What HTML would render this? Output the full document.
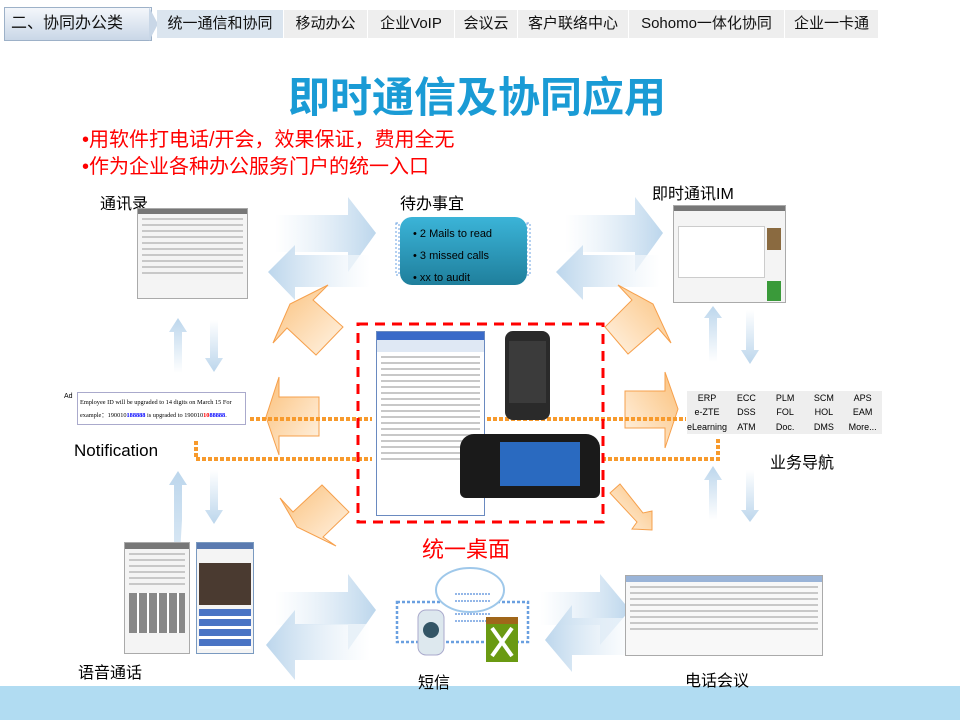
<!DOCTYPE html>
<html><head><meta charset="utf-8"><style>
body{margin:0;width:960px;height:720px;overflow:hidden;background:#fff;font-family:"Liberation Sans","Noto Sans CJK SC",sans-serif;position:relative}
.a{position:absolute;white-space:nowrap}
.tab{position:absolute;top:10px;height:28px;line-height:28px;background:#eeeeee;font-size:15px;color:#111;text-align:center}
.shot{position:absolute;background:#f4f4f4;border:1px solid #aaa;overflow:hidden}
.ln{height:2px;background:#c8c8c8;margin:4px 4px}
</style></head><body>
<svg width="960" height="720" style="position:absolute;left:0;top:0">
<defs>
<linearGradient id="bR" x1="0" x2="1"><stop offset="0" stop-color="#fff" stop-opacity="0.6"/><stop offset="1" stop-color="#bcd6ec"/></linearGradient>
<linearGradient id="bL" x1="1" x2="0"><stop offset="0" stop-color="#fff" stop-opacity="0.6"/><stop offset="1" stop-color="#bcd6ec"/></linearGradient>
<linearGradient id="bU" x1="0" y1="1" x2="0" y2="0"><stop offset="0" stop-color="#fff"/><stop offset="1" stop-color="#bcd6ec"/></linearGradient>
<linearGradient id="bD" x1="0" y1="0" x2="0" y2="1"><stop offset="0" stop-color="#fff"/><stop offset="1" stop-color="#bcd6ec"/></linearGradient>
<linearGradient id="oL" x1="0" y1="0" x2="1" y2="1"><stop offset="0" stop-color="#fbc07a"/><stop offset="1" stop-color="#fff4e6"/></linearGradient>
<linearGradient id="oR" x1="1" y1="0" x2="0" y2="1"><stop offset="0" stop-color="#fbc07a"/><stop offset="1" stop-color="#fff4e6"/></linearGradient>
<linearGradient id="tl" x1="0" y1="0" x2="0" y2="1"><stop offset="0" stop-color="#3bb4d8"/><stop offset="1" stop-color="#1f7f9c"/></linearGradient>
</defs>
<polygon points="275,215 348,215 348,197 376,233 348,272 348,252 275,252" fill="url(#bR)"/>
<polygon points="370,255 295,255 295,245 268,272 295,300 295,287 370,287" fill="url(#bL)"/>
<polygon points="565,215 635,215 635,197 663,233 635,272 635,252 565,252" fill="url(#bR)"/>
<polygon points="660,255 583,255 583,245 556,272 583,300 583,287 660,287" fill="url(#bL)"/>
<polygon points="275,592 348,592 348,574 376,610 348,650 348,625 275,625" fill="url(#bR)"/>
<polygon points="370,624 295,624 295,610 266,645 295,680 295,660 370,660" fill="url(#bL)"/>
<polygon points="540,592 600,592 600,574 630,610 600,645 600,625 540,625" fill="url(#bR)"/>
<polygon points="635,618 572,618 572,605 545,640 572,672 572,655 635,655" fill="url(#bL)"/>
<g fill="url(#bU)"><polygon points="174,373 174,332 169,332 178,318 187,332 182,332 182,373"/><polygon points="174,655 174,485 169,485 178,471 187,485 182,485 182,520"/><polygon points="709,362 709,318 704,318 713,306 722,318 717,318 717,362"/><polygon points="709,520 709,480 704,480 713,466 722,480 717,480 717,520"/></g>
<g fill="url(#bD)"><polygon points="210,320 210,358 205,358 214,372 223,358 218,358 218,320"/><polygon points="210,470 210,510 205,510 214,524 223,510 218,510 218,470"/><polygon points="746,310 746,350 741,350 750,364 759,350 754,350 754,310"/><polygon points="746,470 746,510 741,510 750,522 759,510 754,510 754,470"/></g>
<g stroke="#f6a04c" stroke-width="1">
<polygon fill="url(#oL)" points="273,343 290,304 328,285 313,300 343,327 316,355 287,328"/>
<polygon fill="url(#oL)" points="266,417 279,377 279,397 319,397 319,436 279,436 279,455"/>
<polygon fill="url(#oL)" points="280,498 293,512 322,485 349,512 323,537 336,546 297,527"/>
<polygon fill="url(#oR)" points="618,285 653,304 671,343 658,328 628,354 605,327 632,300"/>
<polygon fill="url(#oR)" points="625,391 665,391 665,372 678,409 665,448 665,428 625,428"/>
<polygon fill="url(#oR)" points="610,493 620,484 643,513 652,511 652,530 632,529 637,522"/>
</g>
<g stroke="#f79a2c" stroke-width="4" stroke-dasharray="4,2" fill="none">
<line x1="250" y1="419" x2="372" y2="419"/><line x1="475" y1="419" x2="686" y2="419"/>
<polyline points="196,441 196,459 372,459"/><polyline points="560,459 718,459 718,438"/>
</g>
<rect x="358" y="324" width="245" height="198" fill="none" stroke="#f00" stroke-width="3" stroke-dasharray="10,7"/>
<rect x="396" y="223" width="3" height="52" fill="none" stroke="#6aa0e0" stroke-dasharray="2,2"/>
<rect x="527" y="223" width="3" height="52" fill="none" stroke="#6aa0e0" stroke-dasharray="2,2"/>
<rect x="400" y="217" width="127" height="68" rx="12" fill="url(#tl)"/>
<rect x="397" y="602" width="131" height="40" fill="none" stroke="#6aa0e0" stroke-width="2.5" stroke-dasharray="3,2"/>
<ellipse cx="470" cy="590" rx="34" ry="22" fill="#fff" stroke="#9fc8ea" stroke-width="2"/>
<g stroke="#2a6fd0" stroke-width="1" stroke-dasharray="2,1"><line x1="455" y1="594" x2="490" y2="594"/><line x1="455" y1="601" x2="490" y2="601"/><line x1="455" y1="614" x2="490" y2="614"/><line x1="455" y1="621" x2="490" y2="621"/></g>
<rect x="418" y="610" width="26" height="45" rx="8" fill="#dde8ee" stroke="#aac"/>
<circle cx="431" cy="630" r="8" fill="#356"/>
<rect x="486" y="622" width="32" height="40" fill="#6a9a12"/><rect x="486" y="617" width="32" height="7" fill="#a0661a"/>
<path d="M492 628 L512 656 M512 628 L492 656" stroke="#fff" stroke-width="4"/>
</svg>
<div class="a" style="left:0;top:686px;width:960px;height:34px;background:#b1dcf2"></div>
<div class="a" style="left:4px;top:7px;width:140px;height:32px;background:linear-gradient(#f4f7fb,#c9d7e7);border:1px solid #9db1c8;font-size:16px;line-height:32px;padding-left:6px;color:#111">二、协同办公类</div>
<div class="a" style="left:149px;top:7px;width:0;height:0;border-top:17px solid transparent;border-bottom:17px solid transparent;border-left:9px solid #c9d7e7"></div>
<div class="tab" style="left:157px;width:126px;background:#dbe5ef">统一通信和协同</div>
<div class="tab" style="left:284px;width:83px">移动办公</div>
<div class="tab" style="left:368px;width:86px">企业VoIP</div>
<div class="tab" style="left:455px;width:62px">会议云</div>
<div class="tab" style="left:518px;width:110px">客户联络中心</div>
<div class="tab" style="left:629px;width:155px">Sohomo一体化协同</div>
<div class="tab" style="left:785px;width:93px">企业一卡通</div>
<div class="a" style="left:288px;top:64px;font-size:42px;font-weight:bold;color:#1a9bd5">即时通信及协同应用</div>
<div class="a" style="left:82px;top:127px;font-size:20px;color:#f00;line-height:27px">•用软件打电话/开会，效果保证，费用全无<br>•作为企业各种办公服务门户的统一入口</div>
<div class="a" style="left:100px;top:190px;font-size:16px">通讯录</div>
<div class="a" style="left:400px;top:190px;font-size:16px">待办事宜</div>
<div class="a" style="left:652px;top:180px;font-size:16px">即时通讯IM</div>
<div class="a" style="left:74px;top:441px;font-size:17px">Notification</div>
<div class="a" style="left:770px;top:449px;font-size:16px">业务导航</div>
<div class="a" style="left:422px;top:532px;font-size:22px;color:#f00">统一桌面</div>
<div class="a" style="left:78px;top:659px;font-size:16px">语音通话</div>
<div class="a" style="left:418px;top:669px;font-size:16px">短信</div>
<div class="a" style="left:685px;top:667px;font-size:16px">电话会议</div>
<div class="a" style="left:413px;top:223px;font-size:11px;color:#000;line-height:22px">• 2 Mails to read<br>• 3 missed calls<br>• xx to audit</div>
<div class="shot" style="left:137px;top:208px;width:109px;height:89px"><div style="height:5px;background:#777"></div><div class="ln"></div><div class="ln"></div><div class="ln"></div><div class="ln"></div><div class="ln"></div><div class="ln"></div><div class="ln"></div><div class="ln"></div><div class="ln"></div><div class="ln"></div></div>
<div class="shot" style="left:673px;top:205px;width:111px;height:96px"><div style="height:5px;background:#777"></div><div style="position:absolute;left:93px;top:22px;width:14px;height:22px;background:#8a6a40"></div><div style="position:absolute;left:93px;top:75px;width:14px;height:20px;background:#3a9a3a"></div><div style="position:absolute;left:4px;top:20px;width:85px;height:50px;background:#fff;border:1px solid #ccc"></div></div>
<div class="a" style="left:64px;top:393px;font-size:7px">Ad</div>
<div class="a" style="left:77px;top:392px;width:169px;height:33px;border:1px solid #aac;font-family:'Liberation Serif',serif;font-size:6.3px;line-height:13px;padding:3px 2px;box-sizing:border-box;white-space:normal">Employee ID will be upgraded to 14 digits on March 15 For example：190010<b style="color:#00f">188888</b> is upgraded to 190010<b style="color:#f00">10</b><b style="color:#00f">88888</b>.</div>
<div class="a" style="left:687px;top:391px;width:195px;height:43px;background:#eee;font-size:9px;display:grid;grid-template-columns:repeat(5,1fr);text-align:center;line-height:14px"><span>ERP</span><span>ECC</span><span>PLM</span><span>SCM</span><span>APS</span><span>e-ZTE</span><span>DSS</span><span>FOL</span><span>HOL</span><span>EAM</span><span>eLearning</span><span>ATM</span><span>Doc.</span><span>DMS</span><span>More...</span></div>
<div class="shot" style="left:124px;top:542px;width:64px;height:110px"><div style="height:6px;background:#777"></div><div class="ln"></div><div class="ln"></div><div class="ln"></div><div class="ln"></div><div class="ln"></div><div class="ln"></div><div style="margin:8px 4px;height:40px;background:repeating-linear-gradient(90deg,#888 0 8px,#fff 8px 10px)"></div></div>
<div class="shot" style="left:196px;top:542px;width:56px;height:110px;border-color:#7a9ac0"><div style="height:6px;background:#5a7ab0"></div><div style="margin:14px 2px 4px;height:42px;background:#4a3a30"></div><div style="margin:4px 2px;height:40px;background:repeating-linear-gradient(#4a74c4 0 7px,#fff 7px 10px)"></div></div>
<div class="shot" style="left:625px;top:575px;width:196px;height:79px;background:#f8f8f8"><div style="height:6px;background:#9ab4d8"></div><div class="ln"></div><div class="ln"></div><div class="ln"></div><div class="ln"></div><div class="ln"></div><div class="ln"></div><div class="ln"></div><div class="ln"></div></div>
<div class="shot" style="left:376px;top:331px;width:107px;height:183px;border-color:#6a8ac0;background:#fff"><div style="height:8px;background:#3a6ac8"></div><div style="height:12px;background:#dfe8f4"></div><div class="ln"></div><div class="ln"></div><div class="ln"></div><div class="ln"></div><div class="ln"></div><div class="ln"></div><div class="ln"></div><div class="ln"></div><div class="ln"></div><div class="ln"></div><div class="ln"></div><div class="ln"></div><div class="ln"></div><div class="ln"></div><div class="ln"></div><div class="ln"></div><div class="ln"></div><div class="ln"></div></div>
<div class="a" style="left:505px;top:331px;width:45px;height:89px;background:#2a2a2a;border-radius:8px"><div style="margin:10px 4px;height:62px;background:#3b3b3b"></div></div>
<div class="a" style="left:460px;top:434px;width:140px;height:64px;background:#1a1a1a;border-radius:14px 14px 6px 6px"><div style="margin:8px 0 0 40px;width:80px;height:44px;background:#2a6ac0"></div></div>
</body></html>
